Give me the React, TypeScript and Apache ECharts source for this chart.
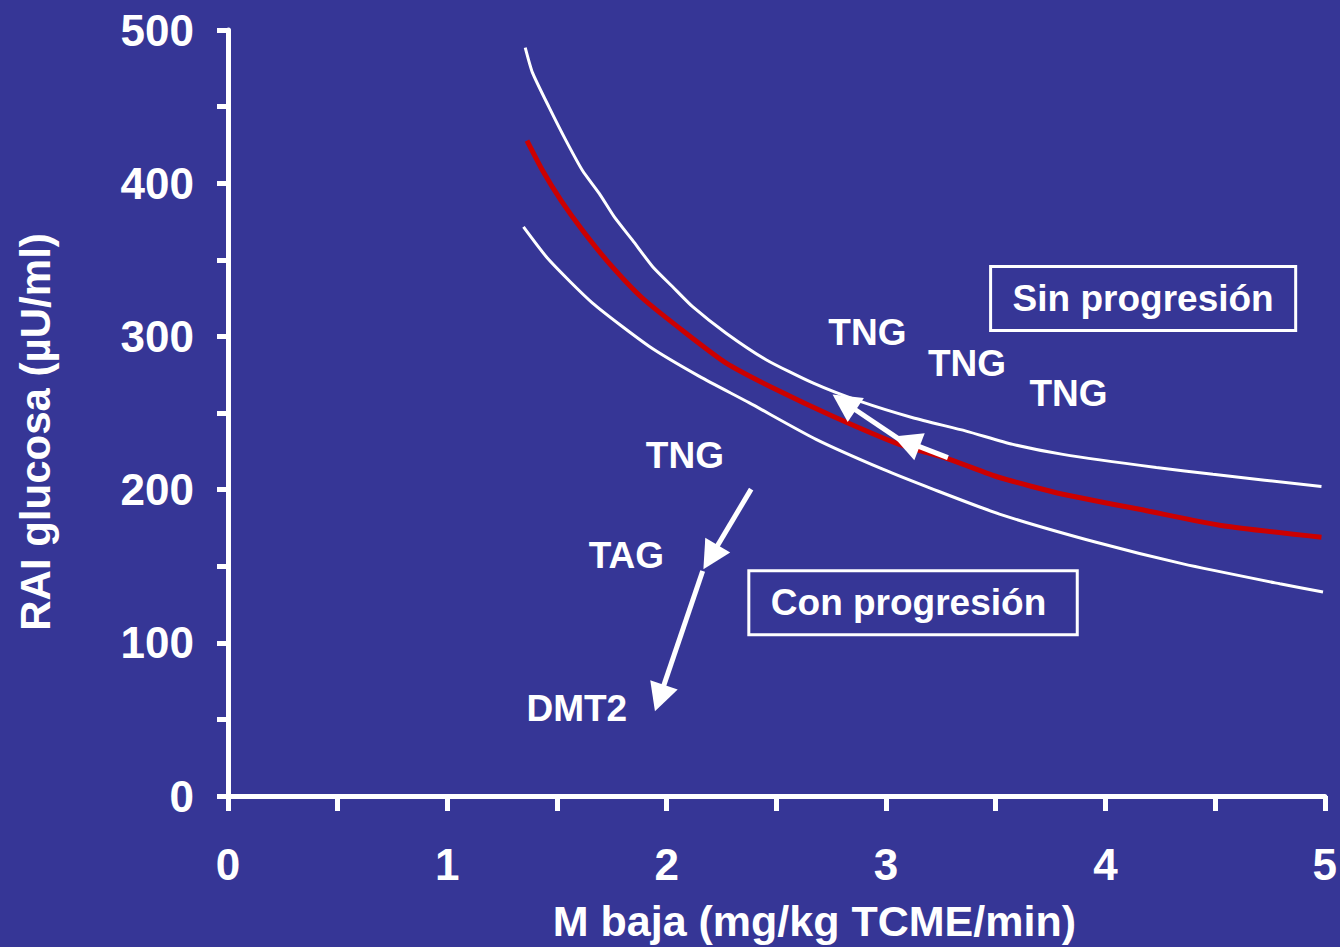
import React, { useEffect, useRef } from 'react';
import * as echarts from 'echarts';

// Upper confidence curve (white)
const upperX = [1.355, 1.388, 1.464, 1.541, 1.616, 1.693, 1.761, 1.844, 1.936, 2.027, 2.118, 2.271, 2.453, 2.666, 2.879, 3.122, 3.365, 3.578, 3.806, 4.232, 4.49, 4.985];
const upperY = [488.5, 472.2, 449.5, 427.8, 408.3, 393.2, 378.0, 362.8, 345.5, 332.4, 319.4, 302.1, 284.8, 269.6, 257.7, 246.9, 238.2, 229.5, 223.0, 214.4, 210.0, 202.0];

// Central curve (red)
const redX = [1.363, 1.434, 1.518, 1.616, 1.738, 1.89, 2.088, 2.271, 2.499, 2.757, 3.061, 3.289, 3.517, 3.806, 4.187, 4.536, 4.985];
const redY = [427.8, 408.3, 388.8, 369.3, 347.7, 324.9, 302.1, 282.6, 265.3, 247.9, 229.5, 219.8, 207.9, 197.0, 186.2, 176.4, 168.9];

// Lower confidence curve (white)
const lowerX = [1.347, 1.464, 1.662, 1.921, 2.149, 2.377, 2.681, 2.985, 3.213, 3.517, 3.958, 4.354, 4.795, 4.992];
const lowerY = [371.5, 349.8, 321.7, 293.4, 273.9, 256.6, 232.8, 213.3, 200.3, 184.0, 165.6, 151.5, 138.5, 133.1];

// Annotation labels (data coordinates)
const noteLabels = ['TNG', 'TNG', 'TNG', 'TNG', 'TAG', 'DMT2'];
const noteX = [2.915, 3.369, 3.832, 2.083, 1.816, 1.59];
const noteY = [302.7, 282.6, 262.7, 222.0, 157.3, 57.2];

// Boxed region labels
const boxLabels = ['Sin progresión', 'Con progresión'];
const boxX = [4.172, 3.123];
const boxY = [324.8, 126.1];

// Arrows: start x, start y, end x, end y
const arrowX1 = [2.385, 2.164, 3.282, 3.061];
const arrowY1 = [200.3, 146.9, 220.9, 232.8];
const arrowX2 = [2.2, 1.967, 3.093, 2.809];
const arrowY2 = [155.9, 63.9, 231.3, 257.0];

const FONT = 'Arial, "Liberation Sans", Helvetica, sans-serif';
const BG = '#363696';

const zip = (xs: number[], ys: number[]) => xs.map((x, i) => [x, ys[i]]);

export default function App() {
  const ref = useRef<HTMLDivElement>(null);

  useEffect(() => {
    document.body.style.margin = '0';
    const chart = echarts.init(ref.current!, null, { renderer: 'svg' });
    const boxPadding = [
      [13, 22, 13, 22],
      [13, 31, 13, 22],
    ];
    const option: any = {
      animation: false,
      backgroundColor: BG,
      grid: { left: 228, right: 15, top: 30, bottom: 149 },
      xAxis: {
        type: 'value',
        min: 0,
        max: 5,
        interval: 0.5,
        name: 'M baja (mg/kg TCME/min)',
        nameLocation: 'middle',
        nameGap: 103,
        nameTextStyle: { color: '#fff', fontSize: 43, fontWeight: 'bold', fontFamily: FONT, padding: [0, 0, 0, 76] },
        axisLine: { show: true, lineStyle: { color: '#fff', width: 5 } },
        axisTick: { show: true, length: 15, lineStyle: { color: '#fff', width: 5 } },
        axisLabel: {
          color: '#fff',
          fontSize: 44,
          fontWeight: 'bold',
          fontFamily: FONT,
          margin: 46,
          formatter: (v: number) => (Number.isInteger(v) ? String(v) : ''),
        },
        splitLine: { show: false },
      },
      yAxis: {
        type: 'value',
        min: 0,
        max: 500,
        interval: 50,
        name: 'RAI glucosa (µU/ml)',
        nameLocation: 'middle',
        nameGap: 172,
        nameTextStyle: { color: '#fff', fontSize: 42, fontWeight: 'bold', fontFamily: FONT, padding: [0, 38, 0, 0] },
        axisLine: { show: true, lineStyle: { color: '#fff', width: 5 } },
        axisTick: { show: true, length: 11, lineStyle: { color: '#fff', width: 5 } },
        axisLabel: {
          color: '#fff',
          fontSize: 44,
          fontWeight: 'bold',
          fontFamily: FONT,
          margin: 34,
          formatter: (v: number) => (v % 100 === 0 ? String(v) : ''),
        },
        splitLine: { show: false },
      },
      series: [
        {
          name: 'Límite superior',
          type: 'line',
          data: zip(upperX, upperY),
          showSymbol: false,
          smooth: 0.2,
          lineStyle: { color: '#fff', width: 3 },
        },
        {
          name: 'Curva',
          type: 'line',
          data: zip(redX, redY),
          showSymbol: false,
          smooth: 0.2,
          lineStyle: { color: '#cc0000', width: 5 },
        },
        {
          name: 'Límite inferior',
          type: 'line',
          data: zip(lowerX, lowerY),
          showSymbol: false,
          smooth: 0.2,
          lineStyle: { color: '#fff', width: 3 },
        },
        {
          name: 'Flechas',
          type: 'line',
          data: [],
          markLine: {
            silent: true,
            animation: false,
            symbol: ['none', 'triangle'],
            symbolSize: [29, 28],
            label: { show: false },
            lineStyle: { color: '#fff', width: 5, type: 'solid', opacity: 1 },
            emphasis: { disabled: true },
            data: arrowX1.map((x, i) => [
              { coord: [x, arrowY1[i]] },
              { coord: [arrowX2[i], arrowY2[i]] },
            ]),
          },
        },
        {
          name: 'Notas',
          type: 'scatter',
          symbolSize: 0,
          silent: true,
          itemStyle: { opacity: 1 },
          data: noteLabels.map((n, i) => ({ name: n, value: [noteX[i], noteY[i]] })),
          label: {
            show: true,
            position: 'inside',
            formatter: '{b}',
            color: '#ffffff',
            opacity: 1,
            fontSize: 37,
            fontWeight: 'bold',
            fontFamily: FONT,
          },
        },
        {
          name: 'Regiones',
          type: 'scatter',
          symbolSize: 0,
          silent: true,
          itemStyle: { opacity: 1 },
          data: boxLabels.map((n, i) => ({
            name: n,
            value: [boxX[i], boxY[i]],
            label: { padding: boxPadding[i] },
          })),
          label: {
            show: true,
            position: 'inside',
            formatter: '{b}',
            color: '#ffffff',
            opacity: 1,
            fontSize: 37,
            fontWeight: 'bold',
            fontFamily: FONT,
            lineHeight: 38,
            borderColor: '#ffffff',
            borderWidth: 3,
          },
        },
      ],
    };
    chart.setOption(option);
    return () => chart.dispose();
  }, []);

  return <div ref={ref} style={{ width: 1340, height: 947, background: BG }} />;
}
